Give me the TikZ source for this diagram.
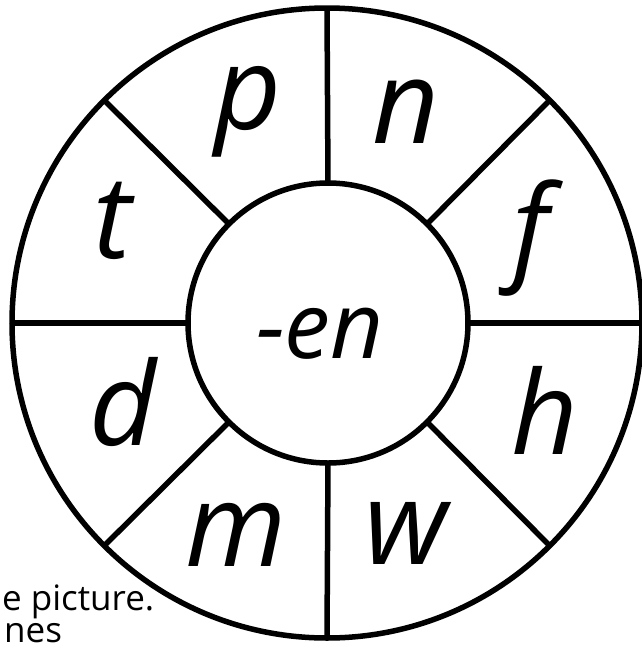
\documentclass[tikz,border=0pt]{standalone}
\usepackage{fontspec}
\setmainfont{Open Sans}
\usetikzlibrary{positioning}

\begin{document}
\begin{tikzpicture}[
  x=1pt, y=-1pt,
  wheelline/.style={draw=black, line width=5.5pt},
  ring/.style={wheelline, circle, inner sep=0pt, outer sep=0pt},
  letter/.style={font=\fontsize{116}{116}\selectfont\itshape, inner sep=0pt},
  caption/.style={font=\fontsize{35}{35}\selectfont, inner sep=0pt},
]
\useasboundingbox (0,0) rectangle (642,649);
\clip (0,0) rectangle (642,649);

% ---------- wheel ----------
\node[ring, minimum size=630pt] (rim) at (327,323) {};
\node[ring, fill=white, minimum size=280pt] (hub) at (328,323) {};
\foreach \ang in {0,45,...,315}
  \draw[wheelline] (hub.\ang) -- (rim.\ang);

% ---------- rime in the middle ----------
\node[letter, font=\fontsize{92}{92}\selectfont\itshape] (rime) at (320,334) {-en};

% ---------- onsets round the wheel ----------
\node[letter] (pOnset) at (248,112) {p};
\node[letter] (nOnset) at (406,112) {n};
\node[letter] (tOnset) at (113,221) {t};
\node[letter] (fOnset) at (531,238) {f};
\node[letter] (dOnset) at (123,402) {d};
\node[letter] (hOnset) at (545,410) {h};
\node[letter] (mOnset) at (236,535) {m};
\node[letter] (wOnset) at (406,533) {w};

% ---------- text at the lower left ----------
\node[caption, anchor=base west] (capOne) at (2,610) {e picture.};
\node[caption, anchor=base west] (capTwo) at (4,642) {nes};

\end{tikzpicture}
\end{document}
